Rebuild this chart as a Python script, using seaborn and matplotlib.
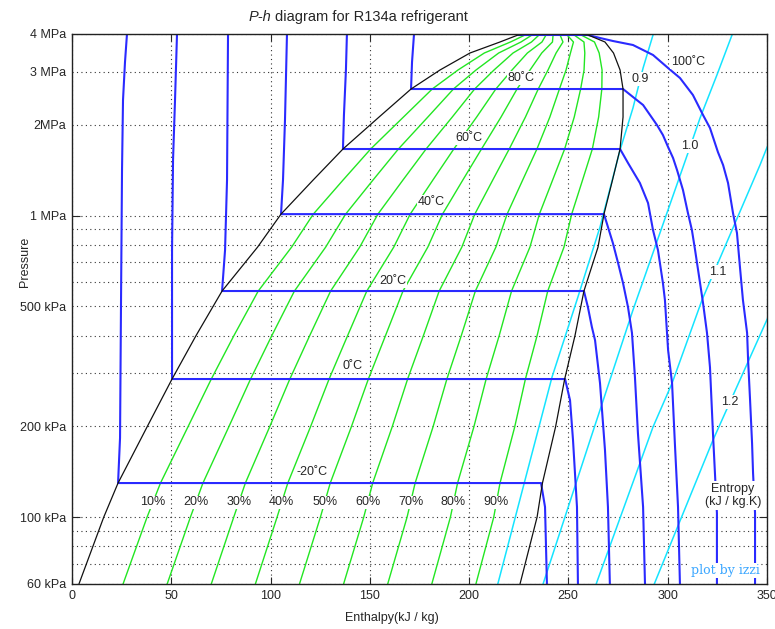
import numpy as np
import pandas as pd
import matplotlib
matplotlib.use("Agg")
import matplotlib.pyplot as plt
import matplotlib.ticker as mticker
import seaborn as sns

# ---------------------------------------------------------------------------
# R134a saturation dome: pressure (kPa), saturated liquid / vapour enthalpy (kJ/kg)
sat_p = [60, 100, 129.7, 199, 287, 400, 562, 786, 1011, 1312, 1662, 2122, 2628, 3039, 3460, 3763, 3970]
sat_hf = [3.5, 16.0, 23.2, 37.8, 50.4, 62.5, 75.6, 93.5, 105.3, 121.5, 136.5, 154.7, 170.8, 185.4, 200.5, 215.6, 224.7]
sat_hg = [225.7, 234.3, 237.0, 243.6, 248.2, 253.4, 257.9, 265.0, 268.0, 272.3, 276.1, 277.6, 277.6, 276.1, 272.8, 268.5, 260.0]
crit_h, crit_p = 242.0, 4059.0

# vapour quality lines
qualities = [0.1, 0.2, 0.3, 0.4, 0.5, 0.6, 0.7, 0.8, 0.9]

# isotherms (degC): enthalpy / pressure along liquid branch, saturation and superheated branch
iso_temps = [-20, 0, 20, 40, 60, 80, 100]
iso_h = {
    -20: [27.7, 26.7, 25.7, 25.2, 24.7, 24.2, 23.2, 236.3, 238.3, 239.3],
    0: [52.9, 51.9, 50.9, 50.4, 50.4, 248.4, 250.9, 252.4, 254.4, 254.9],
    20: [78.6, 78.1, 77.1, 75.6, 257.9, 259.9, 261.9, 263.5, 266.0, 268.5, 270.0, 271.0],
    40: [108.3, 107.3, 106.3, 105.3, 268.0, 272.5, 275.1, 277.6, 280.1, 282.1, 283.6, 285.1, 287.7, 288.7],
    60: [138.5, 138.0, 137.0, 136.5, 276.1, 280.1, 286.1, 290.2, 292.7, 295.2, 297.7, 298.7, 300.3,
         302.3, 303.8, 305.3, 306.3],
    80: [172.3, 171.3, 170.8, 277.6, 282.6, 287.7, 291.2, 294.7, 297.7, 300.3, 302.8, 304.8, 307.8,
         310.3, 312.3, 313.9, 316.4, 317.9, 319.9, 321.4, 322.9, 323.9, 324.9, 324.9],
    100: [224.7, 259.9, 266.0, 272.5, 282.6, 292.7, 300.3, 306.3, 312.8, 317.9, 321.4, 325.4, 328.0,
          330.5, 333.0, 335.0, 336.5, 338.0, 340.1, 340.6, 341.6, 342.6, 343.1, 344.1, 344.1],
}
iso_p = {
    -20: [4000, 3230, 2417, 1416, 525, 183, 129.7, 129.7, 108, 58.6],
    0: [4000, 2417, 1528, 768, 287, 287, 244, 180, 108, 58.6],
    20: [4000, 1312, 768, 562, 562, 497, 427, 386, 278, 167, 108, 58.6],
    40: [4000, 2074, 1312, 1011, 1011, 810, 696, 597, 497, 408, 291, 190, 108, 58.6],
    60: [4000, 3039, 2155, 1662, 1662, 1494, 1282, 1100, 895, 768, 597, 525, 358, 278, 171, 108, 58.6],
    80: [4000, 3230, 2628, 2628, 2473, 2326, 2155, 1996, 1849, 1687, 1552, 1416, 1215, 1019, 895, 768,
         597, 513, 408, 314, 190, 140, 103, 58.6],
    100: [3970, 3970, 3880, 3792, 3678, 3408, 3085, 2858, 2511, 2155, 1951, 1624, 1471, 1282, 1019, 875,
          675, 525, 408, 332, 244, 176, 140, 103, 58.6],
}

# isentropes, kJ/kg.K
entropy_values = [0.9, 1.0, 1.1, 1.2]
ent_h = {
    0.9: [214.1, 232.2, 241.8, 254.4, 266.0, 276.1, 282.6, 287.7, 292.7, 293.2],
    1.0: [236.8, 261.0, 282.6, 310.3, 316.4, 324.9, 332.5, 333.0],
    1.1: [263.5, 292.7, 302.3, 317.4, 346.6, 351.6],
    1.2: [292.7, 322.9, 351.6],
}
ent_p = {
    0.9: [58.6, 167, 291, 525, 916, 1649, 2273, 3085, 3970, 4000],
    1.0: [58.6, 180, 486, 1612, 2106, 2925, 3970, 4000],
    1.1: [58.6, 199, 278, 525, 1471, 1780],
    1.2: [58.6, 180, 475],
}

# label placement (enthalpy, pressure)
iso_label_h = [120.9, 141.1, 161.7, 180.9, 200.0, 226.2, 310.3]
iso_label_p = [141, 317, 607, 1109, 1807, 2858, 3230]
ent_label_h = [286.1, 311.3, 325.4, 331.5]
ent_label_p = [2837, 1700, 650, 241]
quality_label_p = 112

y_labels = {60: "60 kPa", 100: "100 kPa", 200: "200 kPa", 500: "500 kPa",
            1000: "1 MPa", 2000: "2MPa", 3000: "3 MPa", 4000: "4 MPa"}

# ---------------------------------------------------------------------------
BLUE = "#2a2aff"
GREEN = "#22e622"
CYAN = "#14e4ff"

sns.set_style("white")
plt.rcParams["font.family"] = ["Liberation Sans", "DejaVu Sans"]
plt.rcParams["font.size"] = 9

fig = plt.figure(figsize=(7.75, 6.29), dpi=100)
ax = fig.add_axes([72 / 775, 1 - 584 / 629, 694.75 / 775, 550 / 629])
ax.set_yscale("log")


def long_frame(hs, ps):
    parts = []
    for key in hs:
        parts.append(pd.DataFrame({"h": hs[key], "p": ps[key], "curve": str(key)}))
    return pd.concat(parts, ignore_index=True)


# quality lines: mixture enthalpy between the saturated states
dome_p = np.array(sat_p + [crit_p])
hf = np.array(sat_hf + [crit_h])
hg = np.array(sat_hg + [crit_h])
q_h = {q: list(hf + q * (hg - hf)) for q in qualities}
q_p = {q: list(dome_p) for q in qualities}
sns.lineplot(data=long_frame(q_h, q_p), x="h", y="p", units="curve", estimator=None,
             sort=False, color=GREEN, lw=1.0, legend=False, ax=ax)

# isentropes
sns.lineplot(data=long_frame(ent_h, ent_p), x="h", y="p", units="curve", estimator=None,
             sort=False, color=CYAN, lw=1.1, legend=False, ax=ax)

# isotherms
sns.lineplot(data=long_frame(iso_h, iso_p), x="h", y="p", units="curve", estimator=None,
             sort=False, color=BLUE, lw=1.5, legend=False, ax=ax)

# saturation dome
dome = pd.DataFrame({"h": sat_hf + [crit_h] + sat_hg[::-1],
                     "p": sat_p + [crit_p] + sat_p[::-1]})
sns.lineplot(data=dome, x="h", y="p", estimator=None, sort=False, color="#111111",
             lw=0.9, legend=False, ax=ax)

# ---------------------------------------------------------------------------
ax.set_xlim(0, 350)
ax.set_ylim(60, 4000)
ax.set_xlabel("")
ax.set_ylabel("")

ax.set_xticks(range(0, 351, 50))
ax.xaxis.set_minor_locator(mticker.NullLocator())
ax.yaxis.set_major_locator(mticker.FixedLocator([100, 1000]))
ax.yaxis.set_minor_locator(mticker.LogLocator(base=10, subs=np.arange(2, 10), numticks=30))


def ylab(v, pos):
    return y_labels.get(int(round(v)), "")


ax.yaxis.set_major_formatter(mticker.FuncFormatter(ylab))
ax.yaxis.set_minor_formatter(mticker.FuncFormatter(ylab))

ax.tick_params(axis="x", which="major", direction="in", length=5, top=True, bottom=True,
               labelsize=9, pad=4, width=0.8)
ax.tick_params(axis="y", which="major", direction="in", length=5.5, left=True, right=True,
               labelsize=9, pad=4, width=0.8)
ax.tick_params(axis="y", which="minor", length=0, labelsize=9, pad=4)

dots = (0, (1, 3))
ax.set_axisbelow(True)
ax.grid(True, axis="y", which="both", ls=dots, lw=0.8, color="#333333")
ax.grid(True, axis="x", which="major", ls=dots, lw=0.8, color="#333333")
for s in ax.spines.values():
    s.set_color("#222222")
    s.set_linewidth(1.0)

# ---------------------------------------------------------------------------
white = dict(boxstyle="square,pad=0.05", fc="white", ec="none")

for t, h, p in zip(iso_temps, iso_label_h, iso_label_p):
    ax.text(h, p, f"{t}\u02daC", ha="center", va="center", fontsize=9, zorder=5, bbox=white)

for s, h, p in zip(entropy_values, ent_label_h, ent_label_p):
    ax.text(h, p, f"{s:.1f}", ha="center", va="center", fontsize=9, zorder=5, bbox=white)

lp = np.log(quality_label_p)
hf_l = np.interp(lp, np.log(sat_p), sat_hf)
hg_l = np.interp(lp, np.log(sat_p), sat_hg)
for q in qualities:
    ax.text(hf_l + q * (hg_l - hf_l), quality_label_p, f"{int(round(q * 100))}%",
            ha="center", va="center", fontsize=9, zorder=5, bbox=white)

ax.text(333.0, 118, "Entropy\n(kJ / kg.K)", ha="center", va="center", fontsize=9,
        linespacing=1.1, zorder=5, bbox=dict(boxstyle="square,pad=0.15", fc="white", ec="none"))
ax.text(329.0, 66.5, "plot by izzi", ha="center", va="center", fontsize=9,
        family=["DejaVu Serif"], color="#3aa6ff", zorder=5, bbox=white)

# title with italic P-h
t1 = fig.text(249 / 775, 1 - 21 / 629, "P-h", fontsize=10.5, style="italic", va="baseline")
ax.annotate("diagram for R134a refrigerant", xy=(1, 0), xytext=(2, 0),
            textcoords="offset points", xycoords=t1, va="bottom",
            ha="left", fontsize=10.5, annotation_clip=False)

fig.text(392 / 775, 1 - 618 / 629, "Enthalpy(kJ / kg)", ha="center", va="center", fontsize=9)
fig.text(25 / 775, 1 - 262 / 629, "Pressure", ha="center", va="center", rotation=90, fontsize=9)

fig.savefig("out.png", dpi=100, facecolor="white")
